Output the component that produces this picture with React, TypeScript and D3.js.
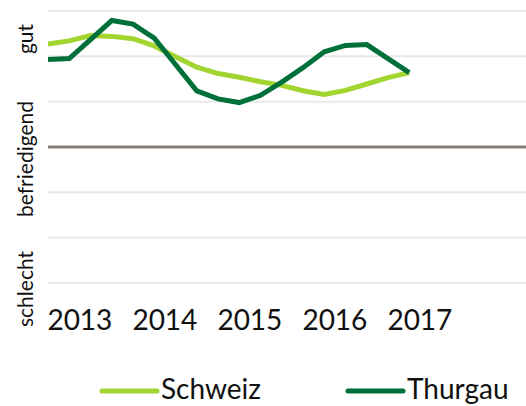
import React from "react";
import * as d3 from "d3";

const years = ["2013", "2014", "2015", "2016", "2017"];
const schweiz = [2.27, 2.34, 2.46, 2.44, 2.39, 2.23, 1.99, 1.76, 1.62, 1.54, 1.44, 1.36, 1.24, 1.16, 1.25, 1.39, 1.53, 1.64];
const thurgau = [1.93, 1.95, 2.37, 2.79, 2.71, 2.4, 1.82, 1.24, 1.06, 0.98, 1.14, 1.43, 1.75, 2.1, 2.24, 2.26, 1.95, 1.64];
const yTicks = [-3, -2, -1, 0, 1, 2, 3];
const yLabels = [
  { text: "gut", pos: 39 },
  { text: "befriedigend", pos: 159 },
  { text: "schlecht", pos: 289 },
];
const seriesNames = ["Schweiz", "Thurgau"];
const colors = ["#a3d530", "#00703a"];

const W = 526;
const H = 406;
const left = 48;
const FONT = "Lato, 'Open Sans', sans-serif";

export default function App() {
  const x = d3.scaleLinear().domain([0, 17]).range([left, left + 17 * 21.25]);
  const y = d3.scaleLinear().domain([-3, 3]).range([283, 11]);
  const line = d3
    .line<number>()
    .x((_, i) => x(i))
    .y((d) => y(d));
  const series = [schweiz, thurgau];

  return (
    <svg
      width={W}
      height={H}
      style={{ position: "absolute", left: 0, top: 0, background: "#fff" }}
    >
      {yTicks
        .filter((t) => t !== 0)
        .map((t) => (
          <line key={t} x1={left} x2={W} y1={y(t)} y2={y(t)} stroke="#e8e8e8" strokeWidth={2} />
        ))}
      <line x1={left} x2={W} y1={y(0)} y2={y(0)} stroke="#877d75" strokeWidth={3} />
      {series.map((s, k) => (
        <path
          key={k}
          d={line(s) || ""}
          fill="none"
          stroke={colors[k]}
          strokeWidth={5}
          strokeLinejoin="miter"
        />
      ))}
      {yLabels.map((l) => (
        <text
          key={l.text}
          transform={`translate(33,${l.pos}) rotate(-90)`}
          textAnchor="middle"
          fontFamily={FONT}
          fontSize={21}
          fill="#111"
        >
          {l.text}
        </text>
      ))}
      {years.map((yr, i) => (
        <text
          key={yr}
          x={x(i * 4 + 1.5)}
          y={330}
          textAnchor="middle"
          fontFamily={FONT}
          fontSize={28}
          fill="#111"
        >
          {yr}
        </text>
      ))}
      {seriesNames.map((n, k) => {
        const lx = k === 0 ? 102 : 348;
        return (
          <g key={n}>
            <line x1={lx} x2={lx + 55} y1={391} y2={391} stroke={colors[k]} strokeWidth={5} strokeLinecap="round" />
            <text x={lx + 59} y={399} fontFamily={FONT} fontSize={28} fill="#111">
              {n}
            </text>
          </g>
        );
      })}
    </svg>
  );
}
